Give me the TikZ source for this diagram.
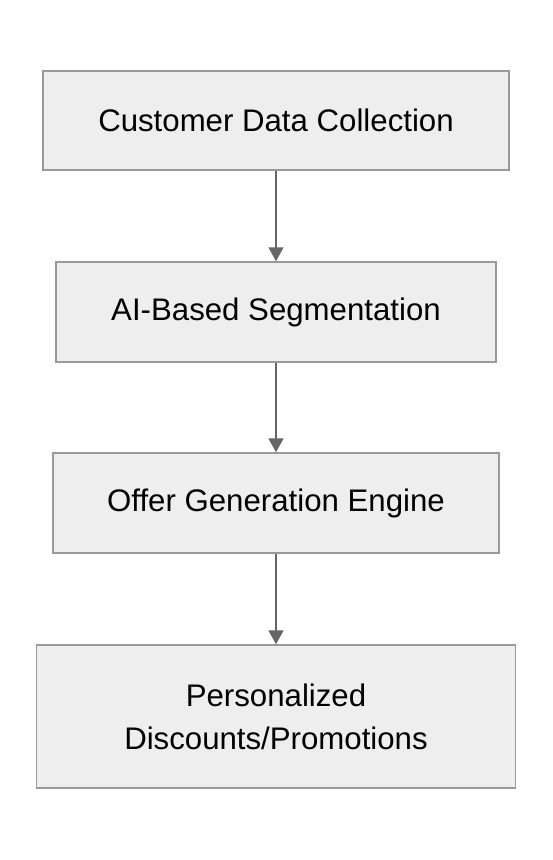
\documentclass[tikz,border=0pt]{standalone}
\usepackage{fontspec}
\setmainfont{Liberation Sans}
\usetikzlibrary{arrows.meta}

\definecolor{boxfill}{HTML}{EEEEEE}
\definecolor{boxline}{HTML}{999999}
\definecolor{flowline}{HTML}{666666}

\begin{document}
\begin{tikzpicture}[x=1pt,y=-1pt,
  stagebox/.style={draw=boxline,fill=boxfill,line width=1.5pt,inner sep=0pt,
    align=center,font=\fontsize{31.2}{43}\selectfont},
  flow/.style={-{Triangle[width=15pt,length=14pt]},draw=flowline,line width=1.8pt}]

\useasboundingbox (0,0) rectangle (552,860);

\node[stagebox,minimum width=466pt,minimum height=99pt] (collect) at (276,120.5) {Customer Data Collection};
\node[stagebox,minimum width=440pt,minimum height=100pt] (segment) at (276,312) {AI-Based Segmentation};
\node[stagebox,minimum width=446pt,minimum height=100pt] (offer) at (276,503) {Offer Generation Engine};
\node[stagebox,minimum width=479pt,minimum height=143pt] (promo) at (276,716.5) {Personalized\\Discounts/Promotions};

\draw[flow] (collect) -- (segment);
\draw[flow] (segment) -- (offer);
\draw[flow] (offer) -- (promo);

\end{tikzpicture}
\end{document}
